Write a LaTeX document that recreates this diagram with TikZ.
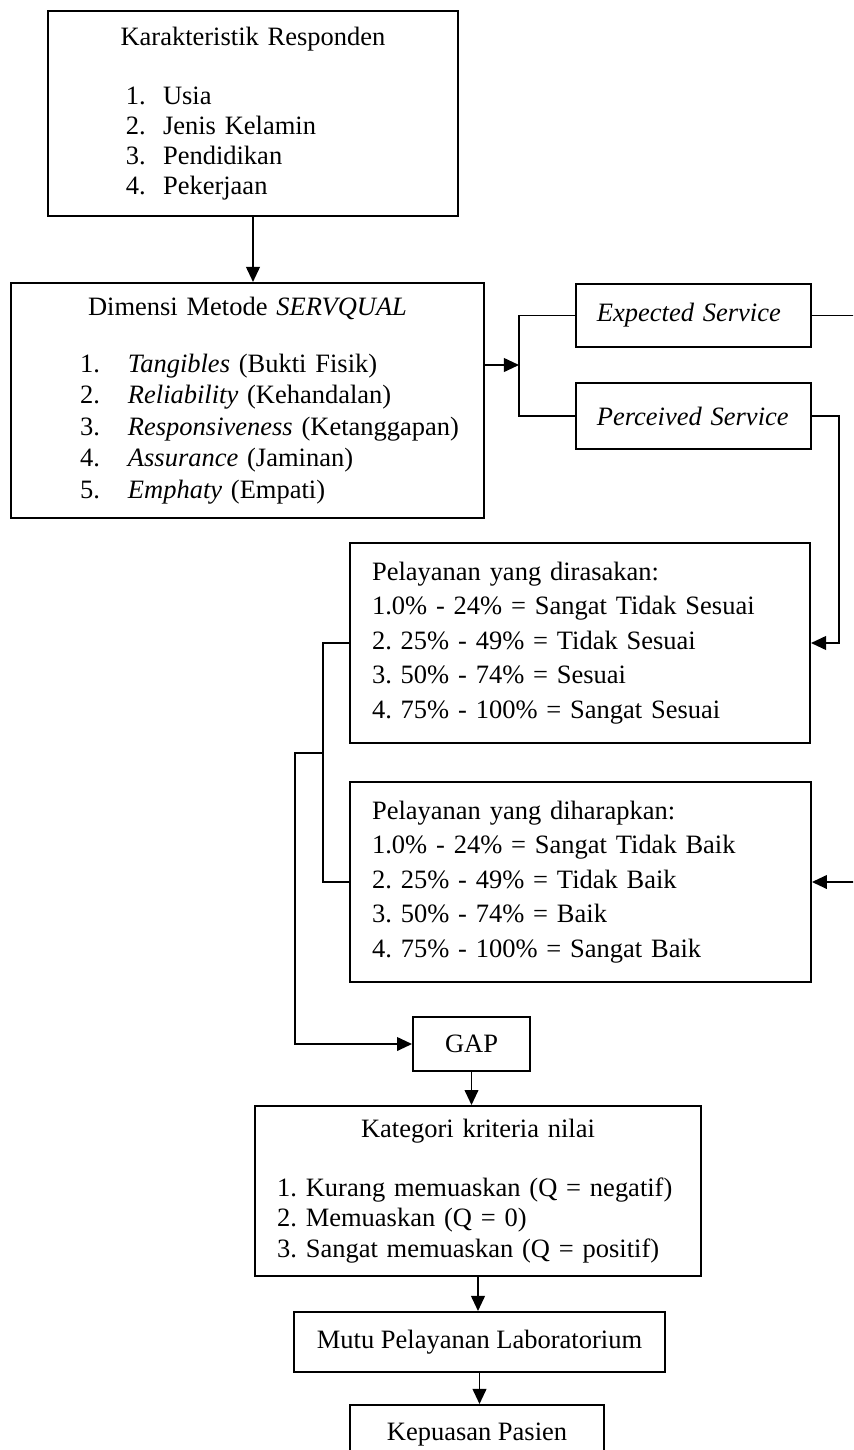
\documentclass[tikz,border=0pt]{standalone}
\usepackage{fontspec}
\setmainfont{Liberation Serif}
\usepackage{tikz}
\usetikzlibrary{arrows.meta}
\newcommand{\butir}[2]{\makebox[#1][l]{#2}}
\tikzset{
  box/.style={draw, rectangle, line width=0.9pt, inner sep=0pt, align=left,
    font=\fontsize{12pt}{13.6pt}\selectfont\frenchspacing},
  link/.style={line width=0.8pt},
  arr/.style={link, -{Triangle[length=6.8pt,width=6.2pt]}}
}

\begin{document}
\begin{tikzpicture}[x=0.453pt, y=-0.453pt]

  \path[use as bounding box, fill=white] (0,0) rectangle (853,1450);
  \clip (0,0) rectangle (853,1450);

  % kolom kiri
  \node[box, text width=185.7pt, minimum height=92.9pt] (resp) at (253,113.5) {%
    {\centering Karakteristik Responden\par}\vspace{13.1pt}%
    \setlength{\leftskip}{35.3pt}%
    \butir{16.8pt}{1.}Usia\par
    \butir{16.8pt}{2.}Jenis Kelamin\par
    \butir{16.8pt}{3.}Pendidikan\par
    \butir{16.8pt}{4.}Pekerjaan\par};

  \node[box, text width=214.3pt, minimum height=106.5pt] (dim) at (247.5,400.5) {%
    \fontsize{12pt}{14.2pt}\selectfont
    {\centering Dimensi Metode \textit{SERVQUAL}\par}\vspace{11.6pt}%
    \setlength{\leftskip}{31.3pt}%
    \butir{21.7pt}{1.}\textit{Tangibles} (Bukti Fisik)\par
    \butir{21.7pt}{2.}\textit{Reliability} (Kehandalan)\par
    \butir{21.7pt}{3.}\textit{Responsiveness} (Ketanggapan)\par
    \butir{21.7pt}{4.}\textit{Assurance} (Jaminan)\par
    \butir{21.7pt}{5.}\textit{Emphaty} (Empati)\par};

  % kolom kanan
  \node[box, text width=106.5pt, minimum height=28.5pt] (exp) at (693.5,315.5) {%
    \setlength{\leftskip}{9.5pt}\textit{Expected Service}\par};
  \node[box, text width=106.5pt, minimum height=29.9pt] (per) at (693.5,416) {%
    \setlength{\leftskip}{9.5pt}\textit{Perceived Service}\par};

  \node[box, text width=208.4pt, minimum height=90.6pt] (rasa) at (580,643) {%
    \fontsize{12pt}{15.7pt}\selectfont\setlength{\leftskip}{10pt}%
    Pelayanan yang dirasakan:\par
    1.0\% - 24\% = Sangat Tidak Sesuai\par
    2. 25\% - 49\% = Tidak Sesuai\par
    3. 50\% - 74\% = Sesuai\par
    4. 75\% - 100\% = Sangat Sesuai\par};

  \node[box, text width=208.8pt, minimum height=90.6pt] (harap) at (580.5,882) {%
    \fontsize{12pt}{15.6pt}\selectfont\setlength{\leftskip}{10pt}%
    Pelayanan yang diharapkan:\par
    1.0\% - 24\% = Sangat Tidak Baik\par
    2. 25\% - 49\% = Tidak Baik\par
    3. 50\% - 74\% = Baik\par
    4. 75\% - 100\% = Sangat Baik\par};

  % bagian bawah
  \node[box, minimum width=53pt, minimum height=24.5pt] (gap) at (471.5,1044) {GAP};

  \node[box, text width=202pt, minimum height=77pt] (kat) at (478,1191) {%
    \fontsize{12pt}{13.8pt}\selectfont
    {\centering Kategori kriteria nilai\par}\vspace{12.9pt}%
    \setlength{\leftskip}{10pt}%
    1. Kurang memuaskan (Q = negatif)\par
    2. Memuaskan (Q = 0)\par
    3. Sangat memuaskan (Q = positif)\par};

  \node[box, minimum width=168.1pt, minimum height=27.2pt] (mutu) at (479.5,1342) {Mutu Pelayanan Laboratorium};
  \node[box, minimum width=115.5pt, minimum height=27.2pt] (puas) at (477,1435) {Kepuasan Pasien};

  \coordinate (split) at (519,365);
  \coordinate (eright) at (862,315.5);
  \coordinate (pright) at (839,416);
  \coordinate (join) at (323,753);
  \coordinate (lft) at (295,753);

  \draw[arr] (resp.south) -- (resp.south |- dim.north);
  \draw[arr] (dim.east |- split) -- (split);
  \draw[link] (exp.west) -| (split) |- (per.west);
  \draw[arr] (exp.east) -- (eright) |- (harap.east);
  \draw[arr] (per.east) -| (pright |- rasa.east) -- (rasa.east);
  \draw[link] (rasa.west) -| (join) |- (harap.west);
  \draw[arr] (join) -- (lft) |- (gap.west);
  \draw[arr] (gap.south) -- (gap.south |- kat.north);
  \draw[arr] (kat.south) -- (kat.south |- mutu.north);
  \draw[arr] (mutu.south) -- (mutu.south |- puas.north);

\end{tikzpicture}
\end{document}
